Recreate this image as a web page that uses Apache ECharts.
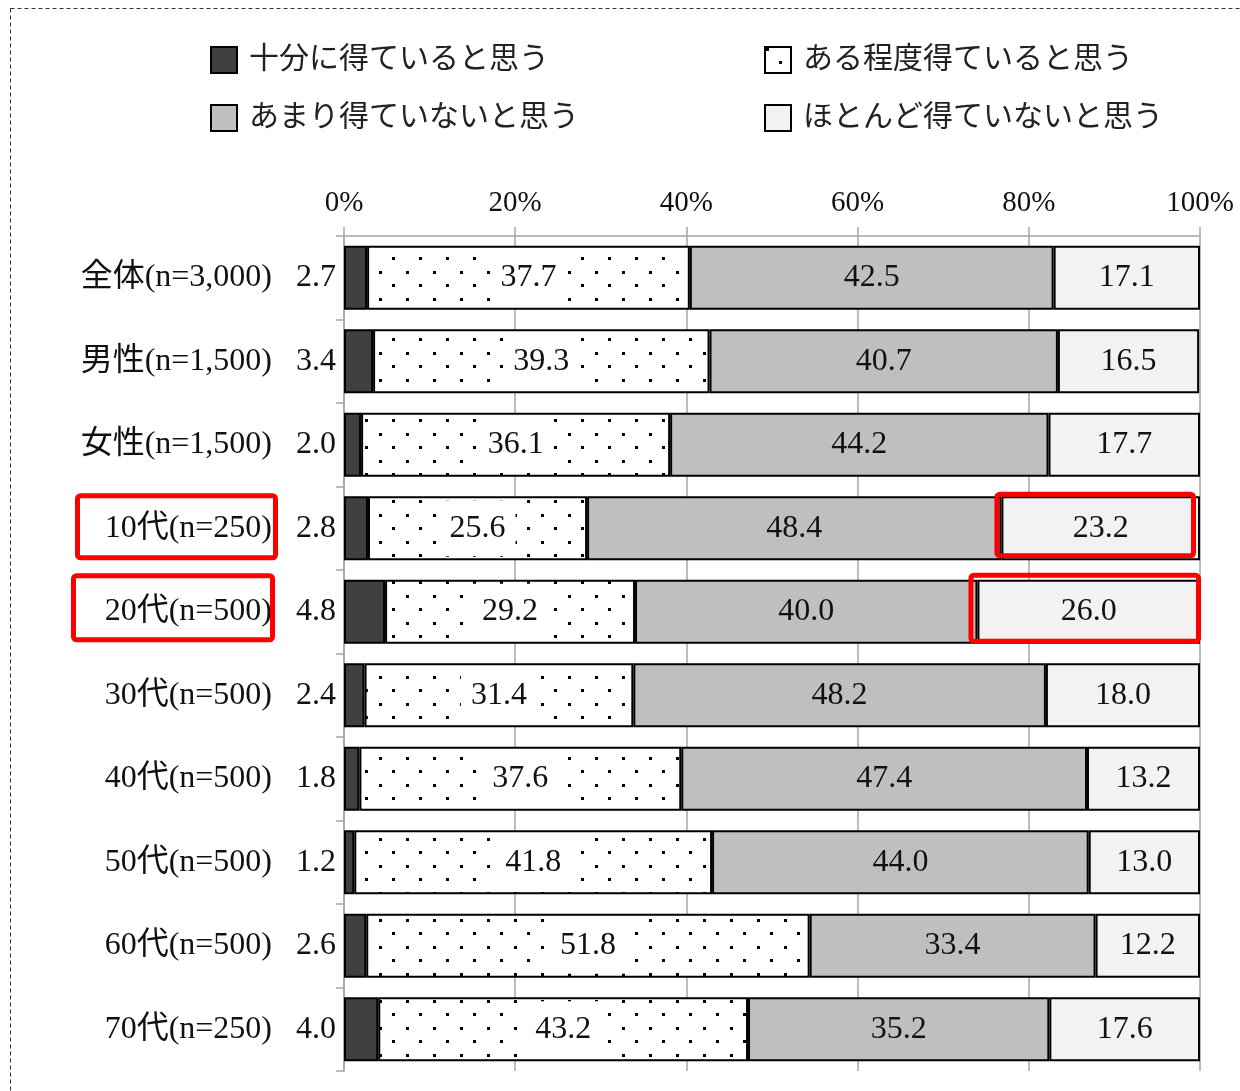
<!DOCTYPE html>
<html>
<head>
<meta charset="utf-8">
<script src="https://cdn.jsdelivr.net/npm/echarts@6/dist/echarts.min.js"></script>
<style>
  html, body { margin: 0; padding: 0; background: #fff; }
  #chart { width: 1240px; height: 1091px; }
</style>
</head>
<body>
<div id="chart"></div>
<script>
// Categories (top to bottom)
const categories = ['全体(n=3,000)', '男性(n=1,500)', '女性(n=1,500)', '10代(n=250)', '20代(n=500)',
  '30代(n=500)', '40代(n=500)', '50代(n=500)', '60代(n=500)', '70代(n=250)'];

// Series names
const seriesNames = ['十分に得ていると思う', 'ある程度得ていると思う', 'あまり得ていないと思う', 'ほとんど得ていないと思う'];

// Percentages per series
const fully    = [2.7, 3.4, 2.0, 2.8, 4.8, 2.4, 1.8, 1.2, 2.6, 4.0];
const somewhat = [37.7, 39.3, 36.1, 25.6, 29.2, 31.4, 37.6, 41.8, 51.8, 43.2];
const notMuch  = [42.5, 40.7, 44.2, 48.4, 40.0, 48.2, 47.4, 44.0, 33.4, 35.2];
const hardly   = [17.1, 16.5, 17.7, 23.2, 26.0, 18.0, 13.2, 13.0, 12.2, 17.6];

// Axis ticks
const xTicks = [0, 20, 40, 60, 80, 100];

// Rows highlighted with red frames
const highlightRows = ['10代(n=250)', '20代(n=500)'];

const FONT = "'Liberation Serif', 'DejaVu Serif', 'Noto Sans CJK JP', serif";

// Dotted fill for the second series
function dotPattern() {
  const c = document.createElement('canvas');
  c.width = 27; c.height = 27;
  const g = c.getContext('2d');
  g.fillStyle = '#fff';
  g.fillRect(0, 0, 27, 27);
  g.fillStyle = '#000';
  g.fillRect(1, 1, 3, 3);
  g.fillRect(14, 14, 3, 3);
  return c;
}
const dots = { image: dotPattern(), repeat: 'repeat' };

const chart = echarts.init(document.getElementById('chart'), null, { renderer: 'canvas' });

const baseLabel = {
  show: true,
  fontFamily: FONT,
  fontSize: 32,
  color: '#111',
  formatter: p => p.value.toFixed(1)
};
const itemBase = { borderColor: '#000', borderWidth: 2 };

const legendText = { fontFamily: FONT, fontSize: 30, color: '#222', lineHeight: 30, padding: [0, 0, 0, 7] };

const option = {
  animation: false,
  backgroundColor: '#fff',
  textStyle: { fontFamily: FONT },
  legend: [
    {
      data: [seriesNames[0], seriesNames[2]],
      orient: 'vertical',
      left: 205, top: 40,
      itemWidth: 26, itemHeight: 26,
      itemGap: 28,
      icon: 'rect',
      itemStyle: { borderColor: '#000', borderWidth: 2 },
      textStyle: legendText
    },
    {
      data: [seriesNames[1], seriesNames[3]],
      orient: 'vertical',
      left: 759, top: 40,
      itemWidth: 26, itemHeight: 26,
      itemGap: 28,
      icon: 'rect',
      itemStyle: { borderColor: '#000', borderWidth: 2 },
      textStyle: legendText
    }
  ],
  grid: { left: 344, right: 40, top: 236, bottom: 20, containLabel: false },
  xAxis: {
    type: 'value',
    position: 'top',
    min: xTicks[0],
    max: xTicks[xTicks.length - 1],
    interval: xTicks[1] - xTicks[0],
    axisLine: { show: true, lineStyle: { color: '#a6a6a6', width: 1.5 } },
    axisTick: { show: true, length: 9, lineStyle: { color: '#a6a6a6', width: 1.5 } },
    splitLine: { show: true, lineStyle: { color: '#a6a6a6', width: 1.5 } },
    axisLabel: { formatter: '{value}%', fontFamily: FONT, fontSize: 29, color: '#111', margin: 18 }
  },
  yAxis: {
    type: 'category',
    inverse: true,
    data: categories,
    axisLine: { show: true, lineStyle: { color: '#a6a6a6', width: 1.5 } },
    axisTick: { show: true, length: 8, lineStyle: { color: '#a6a6a6', width: 1.5 } },
    axisLabel: { fontFamily: FONT, fontSize: 32, color: '#111', margin: 72, padding: [4, 0, 0, 0] }
  },
  series: [
    {
      name: seriesNames[0], type: 'bar', stack: 'total', barWidth: 64, data: fully,
      itemStyle: Object.assign({ color: '#404040' }, itemBase),
      label: Object.assign({}, baseLabel, { position: 'left', distance: 8, padding: [4, 0, 0, 0] })
    },
    {
      name: seriesNames[1], type: 'bar', stack: 'total', barWidth: 64, data: somewhat,
      itemStyle: Object.assign({ color: dots }, itemBase),
      label: Object.assign({}, baseLabel, { position: 'inside', backgroundColor: '#fff', padding: [14, 10, 10, 10] })
    },
    {
      name: seriesNames[2], type: 'bar', stack: 'total', barWidth: 64, data: notMuch,
      itemStyle: Object.assign({ color: '#bfbfbf' }, itemBase),
      label: Object.assign({}, baseLabel, { position: 'inside', padding: [4, 0, 0, 0] })
    },
    {
      name: seriesNames[3], type: 'bar', stack: 'total', barWidth: 64, data: hardly,
      itemStyle: Object.assign({ color: '#f2f2f2' }, itemBase),
      label: Object.assign({}, baseLabel, { position: 'inside', padding: [4, 0, 0, 0] })
    }
  ]
};

chart.setOption(option);

// Red frames around highlighted category labels and their last segments
const frames = [];
const labelFrameOffsets = [
  { left: 269, width: 203, dy: -1.5, h: 62 },
  { left: 273, width: 204, dy: -4, h: 64 }
];
const segFrameOffsets = [
  { x0: -4.5, x1: -6.5, y0: -2, y1: -4.5 },
  { x0: -6.5, x1: -1.5, y0: -4.5, y1: -2.5 }
];
highlightRows.forEach((name, k) => {
  const i = categories.indexOf(name);
  const center = chart.convertToPixel({ gridIndex: 0 }, [0, i]);
  const gridLeft = center[0];
  const cy = center[1];
  const lo = labelFrameOffsets[k];
  frames.push({
    type: 'rect', z: 100,
    shape: { x: gridLeft - lo.left + 2.5, y: cy + lo.dy - lo.h / 2, width: lo.width - 5, height: lo.h, r: 3 },
    style: { fill: 'none', stroke: '#ff0000', lineWidth: 5 }
  });
  const startVal = fully[i] + somewhat[i] + notMuch[i];
  const xs = chart.convertToPixel({ gridIndex: 0 }, [startVal, i])[0];
  const xe = chart.convertToPixel({ gridIndex: 0 }, [100, i])[0];
  const so = segFrameOffsets[k];
  frames.push({
    type: 'rect', z: 100,
    shape: { x: xs + so.x0, y: cy - 32 + so.y0, width: (xe + so.x1) - (xs + so.x0), height: 64 + so.y1 - so.y0, r: 3 },
    style: { fill: 'none', stroke: '#ff0000', lineWidth: 5 }
  });
});

// Dashed outer frame
frames.push({
  type: 'rect', z: 0, silent: true,
  shape: { x: 10.5, y: 8.5, width: 1240, height: 1100 },
  style: { fill: 'none', stroke: '#333', lineWidth: 1, lineDash: [4, 3] }
});

chart.setOption({ graphic: frames });
</script>
</body>
</html>
